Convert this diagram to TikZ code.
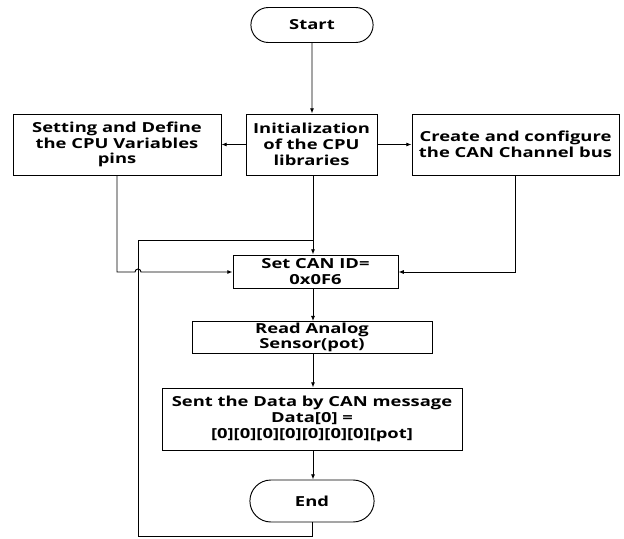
\documentclass[tikz,border=0pt]{standalone}
\usepackage{fontspec}
\setmainfont{Open Sans}[FakeStretch=1.33]
\usetikzlibrary{arrows.meta,shapes.misc}
\begin{document}
\begin{tikzpicture}[x=0.03cm,y=-0.03cm,>={Latex[length=4.5pt,width=3.5pt]},line width=0.8pt,
		font=\fontsize{11.8}{13.4}\selectfont\bfseries,
		box/.style={draw,rectangle,align=center,inner sep=1pt},
		term/.style={draw,rounded rectangle,minimum width=3.9cm,minimum height=1.05cm}]
		\useasboundingbox (0,0) rectangle (624,539);
		\node[term] (start) at (312,25) {Start};
		\node[box,minimum width=3.93cm,minimum height=1.83cm] (init) at (311.5,144.5) {Initialization\\of the CPU\\libraries};
		\node[box,minimum width=6.24cm,minimum height=1.83cm] (pins) at (117,144.5) {Setting and Define\\the CPU Variables\\pins};
		\node[box,minimum width=6.21cm,minimum height=1.83cm] (bus) at (515.5,144.5) {Create and configure\\the CAN Channel bus};
		\node[box,minimum width=4.95cm,minimum height=0.99cm] (canid) at (315.5,271.5) {Set CAN ID=\\0x0F6};
		\node[box,minimum width=7.2cm,minimum height=0.93cm] (read) at (312,337.5) {Read Analog\\Sensor(pot)};
		\node[box,minimum width=9cm,minimum height=1.86cm] (send) at (312,419) {Sent the Data by CAN message\\Data[0] =\\{[0][0][0][0][0][0][0][pot]}};
		\node[term,minimum width=3.96cm,minimum height=1.26cm] (end) at (312,501) {End};
		\coordinate (loop) at (313,240);
		\draw[->] (start) -- (start.south|-init.north);
		\draw[->] (init.west) -- (pins.east);
		\draw[->] (init.east) -- (bus.west);
		\draw[->] (init.south-|loop) -- (loop|-canid.north);
		\draw[->] (pins.south) |- (135,272) arc[start angle=180,end angle=360,radius=3] -- (canid.west|-0,272);
		\draw[->] (bus.south) |- (canid.east|-0,272);
		\draw (end.south) -- (312,536) -| (138,240) -- (loop);
		\draw[->] (canid.south-|loop) -- (loop|-read.north);
		\draw[->] (read.south-|loop) -- (loop|-send.north);
		\draw[->] (send.south-|loop) -- (loop|-end.north);
\end{tikzpicture}
\end{document}
